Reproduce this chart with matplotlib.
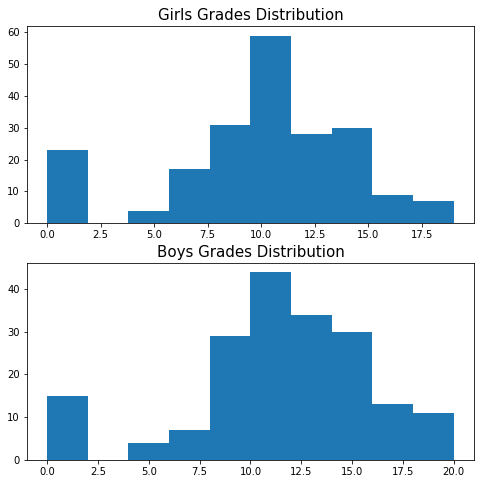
import numpy as np
import matplotlib
matplotlib.use("Agg")
import matplotlib.pyplot as plt

# bin counts (10 bins each)
girls_range = (0, 19)
girls_counts = [23, 0, 4, 17, 31, 59, 28, 30, 9, 7]

boys_range = (0, 20)
boys_counts = [15, 0, 4, 7, 29, 44, 34, 30, 13, 11]

fig, (ax1, ax2) = plt.subplots(2, 1, figsize=(480 / 72, 484 / 72), dpi=72)
fig.subplots_adjust(left=0.056, right=0.9875, top=0.946, bottom=0.05, hspace=0.2)

for ax, rng, counts, title in [
    (ax1, girls_range, girls_counts, "Girls Grades Distribution"),
    (ax2, boys_range, boys_counts, "Boys Grades Distribution"),
]:
    edges = np.linspace(rng[0], rng[1], len(counts) + 1)
    ax.hist(edges[:-1], bins=edges, weights=counts, color="#1f77b4")
    ax.set_title(title, fontsize=15)

fig.savefig("out.png", dpi=72)
